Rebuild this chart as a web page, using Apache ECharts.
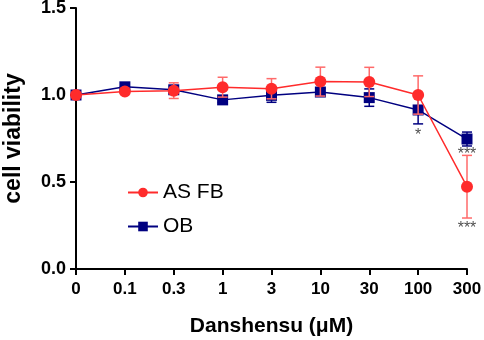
<!DOCTYPE html>
<html>
<head>
<meta charset="utf-8">
<script src="https://cdn.jsdelivr.net/npm/echarts@6/dist/echarts.min.js"></script>
<style>
  html, body { margin: 0; padding: 0; background: #fff; }
  #chart { width: 484px; height: 340px; }
</style>
</head>
<body>
<div id="chart"></div>
<script>
// doses on the x axis (categorical, evenly spaced)
const doses = ['0', '0.1', '0.3', '1', '3', '10', '30', '100', '300']
const yTicks = [0, 0.5, 1.0, 1.5]

// AS FB (red)
const asfbMean = [1.0, 1.02, 1.025, 1.045, 1.036, 1.077, 1.075, 1.0, 0.473]
const asfbErr  = [0, 0.01, 0.045, 0.057, 0.058, 0.083, 0.084, 0.11, 0.18]

// OB (blue)
const obMean = [1.0, 1.047, 1.03, 0.972, 0.998, 1.017, 0.985, 0.914, 0.747]
const obErr  = [0, 0, 0.02, 0.015, 0.04, 0.02, 0.05, 0.08, 0.04]

// significance marks: [dose index, y position, text]
const sigMarks = [[7, 0.765, '*'], [8, 0.66, '***'], [8, 0.235, '***']]

const RED = '#ff2b2b'
const RED_ERR = '#ff6a6a'
const BLUE = '#000080'

function errData(mean, err) {
  return mean.map((m, i) => [i, m - err[i], m + err[i]])
}

function errorBars(color) {
  return function (params, api) {
    const lo = api.coord([api.value(0), api.value(1)])
    const hi = api.coord([api.value(0), api.value(2)])
    const half = 5
    const style = { stroke: color, lineWidth: 1.5 }
    return {
      type: 'group',
      children: [
        { type: 'line', shape: { x1: lo[0], y1: lo[1], x2: hi[0], y2: hi[1] }, style },
        { type: 'line', shape: { x1: lo[0] - half, y1: lo[1], x2: lo[0] + half, y2: lo[1] }, style },
        { type: 'line', shape: { x1: hi[0] - half, y1: hi[1], x2: hi[0] + half, y2: hi[1] }, style }
      ]
    }
  }
}

const chart = echarts.init(document.getElementById('chart'))

const option = {
  animation: false,
  textStyle: { fontFamily: 'Liberation Sans, Arial, sans-serif' },
  grid: { left: 76, right: 17, top: 8, bottom: 71, containLabel: false, outerBoundsMode: 'none' },
  legend: {
    data: ['AS FB', 'OB'],
    orient: 'vertical',
    left: 122,
    top: 177,
    itemWidth: 30,
    itemHeight: 12,
    itemGap: 13,
    textStyle: { fontSize: 21, color: '#000', fontFamily: 'Liberation Sans, Arial, sans-serif' }
  },
  xAxis: {
    type: 'category',
    data: doses,
    boundaryGap: false,
    name: 'Danshensu (μM)',
    nameLocation: 'middle',
    nameGap: 47,
    nameTextStyle: { fontSize: 21, fontWeight: 'bold', color: '#000' },
    axisLine: { lineStyle: { color: '#000', width: 2 } },
    axisTick: { alignWithLabel: true, length: 6, lineStyle: { color: '#000', width: 2 } },
    axisLabel: { fontSize: 17, fontWeight: 'bold', color: '#000', margin: 12, interval: 0 }
  },
  yAxis: {
    type: 'value',
    min: yTicks[0],
    max: yTicks[yTicks.length - 1],
    interval: 0.5,
    name: 'cell viability',
    nameLocation: 'middle',
    nameGap: 51,
    nameTextStyle: { fontSize: 23, fontWeight: 'bold', color: '#000' },
    splitLine: { show: false },
    axisLine: { show: true, lineStyle: { color: '#000', width: 2 } },
    axisTick: { show: true, length: 6, lineStyle: { color: '#000', width: 2 } },
    axisLabel: {
      fontSize: 18, fontWeight: 'bold', color: '#000', margin: 10,
      formatter: v => v.toFixed(1)
    }
  },
  series: [
    {
      name: 'OB',
      type: 'line',
      data: obMean,
      symbol: 'rect',
      symbolSize: 11,
      z: 3,
      itemStyle: { color: BLUE },
      lineStyle: { color: BLUE, width: 1.5 }
    },
    {
      name: 'OB err',
      type: 'custom',
      renderItem: errorBars(BLUE),
      data: errData(obMean, obErr),
      encode: { x: 0, y: [1, 2] },
      z: 2
    },
    {
      name: 'AS FB',
      type: 'line',
      data: asfbMean,
      symbol: 'circle',
      symbolSize: 12,
      z: 5,
      itemStyle: { color: RED },
      lineStyle: { color: RED, width: 1.5 }
    },
    {
      name: 'AS FB err',
      type: 'custom',
      renderItem: errorBars(RED_ERR),
      data: errData(asfbMean, asfbErr),
      encode: { x: 0, y: [1, 2] },
      z: 4
    },
    {
      name: 'sig',
      type: 'scatter',
      symbolSize: 0,
      data: sigMarks.map(s => ({ value: [s[0], s[1]], label: { formatter: s[2] } })),
      label: {
        show: true,
        position: 'inside',
        fontSize: 16,
        color: '#222'
      },
      silent: true,
      z: 6
    }
  ]
}

chart.setOption(option)
</script>
</body>
</html>
